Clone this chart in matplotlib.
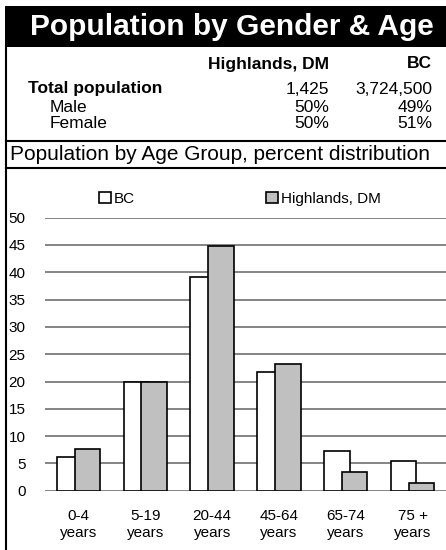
import matplotlib.pyplot as plt
import numpy as np

plt.rcParams['font.family'] = ['Liberation Sans', 'DejaVu Sans']

# Data
age_groups = ["0-4\nyears", "5-19\nyears", "20-44\nyears", "45-64\nyears", "65-74\nyears", "75 +\nyears"]
bc_pct = [6.2, 20.0, 39.2, 21.8, 7.3, 5.4]
highlands_pct = [7.7, 20.0, 44.9, 23.2, 3.5, 1.4]

table_cols = ["Highlands, DM", "BC"]
table_rows = ["Total population", "Male", "Female"]
table_vals = [["1,425", "3,724,500"], ["50%", "49%"], ["50%", "51%"]]

W, H = 446, 550
fig = plt.figure(figsize=(W / 100, H / 100), dpi=100)


def fx(px):
    return px / W


def fy(py):
    return 1 - py / H


# Black title band
fig.patches.append(plt.Rectangle((fx(5), fy(47)), 1, fy(6) - fy(47), transform=fig.transFigure,
                                 facecolor='black', edgecolor='none'))
fig.text(fx(232), fy(27), "Population by Gender & Age", color='white', fontsize=21.5,
         fontweight='bold', ha='center', va='center')

# Border lines
fig.add_artist(plt.Line2D([fx(6), fx(6)], [fy(46), 0], color='black', lw=1.5))
fig.add_artist(plt.Line2D([fx(6), 1], [fy(141), fy(141)], color='black', lw=1.5))
fig.add_artist(plt.Line2D([fx(6), 1], [fy(168), fy(168)], color='black', lw=1.5))

# Summary table
col_right = [329, 432]
for c, name in enumerate(table_cols):
    fig.text(fx(col_right[c]), fy(64), name, fontsize=12.5, fontweight='bold', ha='right', va='center')
row_y = [89, 107, 124]
row_x = [28, 50, 50]
for r, name in enumerate(table_rows):
    fig.text(fx(row_x[r]), fy(row_y[r]), name, fontsize=12.5,
             fontweight='bold' if r == 0 else 'normal', ha='left', va='center')
    for c in range(2):
        fig.text(fx(col_right[c]), fy(row_y[r]), table_vals[r][c], fontsize=12.5, ha='right', va='center')

fig.text(fx(10), fy(154), "Population by Age Group, percent distribution", fontsize=15,
         ha='left', va='center')

# Bar chart
ax = fig.add_axes([fx(45), fy(490.7), fx(401), (490.7 - 217.7) / H])
x = np.arange(len(age_groups))
bw = 0.382
ax.bar(x - 0.1325, bc_pct, bw, color='white', edgecolor='black', linewidth=1.2, label='BC', zorder=2)
ax.bar(x + 0.134, highlands_pct, bw, color='#c0c0c0', edgecolor='black', linewidth=1.2,
       label='Highlands, DM', zorder=3)

ax.set_xlim(-0.5, len(age_groups) - 0.5)
ax.set_ylim(0, 50)
ax.set_yticks(range(0, 51, 5))
ax.set_xticks(x)
ax.set_xticklabels(age_groups, fontsize=11, linespacing=1.25)
ax.tick_params(axis='both', length=0, labelsize=11)
ax.tick_params(axis='x', pad=13)
ax.tick_params(axis='y', pad=14)
ax.yaxis.grid(True, color='#707070', linewidth=1.2, zorder=0)
ax.set_axisbelow(True)
for s in ax.spines.values():
    s.set_visible(False)

ax.legend(loc='center', bbox_to_anchor=(0.486, 1.07), ncol=2, frameon=False, fontsize=11,
          handlelength=0.78, handleheight=0.78, handletextpad=0.2, columnspacing=8.6,
          borderaxespad=0)

fig.savefig('out.png', dpi=100)
